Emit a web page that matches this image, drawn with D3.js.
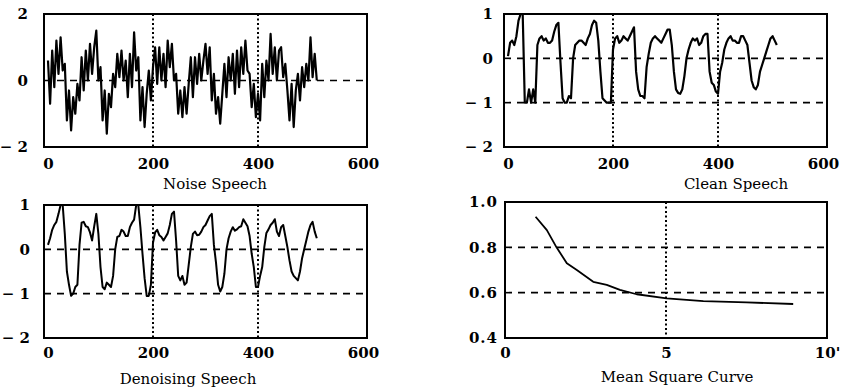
<!DOCTYPE html>
<html>
<head>
<meta charset="utf-8">
<script src="https://cdn.jsdelivr.net/npm/d3@7"></script>
<style>
  body { margin: 0; background: #fff; }
  svg text { font-family: "DejaVu Serif", serif; fill: #000; }
</style>
</head>
<body>
<svg id="chart" width="841" height="389"></svg>
<script>
const sampleStep = 4;

const noiseSpeech = [
  0.6, -0.7, 0.9, -0.2, 1.2, 0.2, 1.3, 0.3, 0.5, -1.2,
  -0.3, -1.5, -0.5, -1.0, -0.1, -0.6, 0.7, -0.3, 0.9, 0.0,
  1.1, 0.2, 1.0, 1.5, 0.0, 0.4, -1.2, -0.3, -1.6, -0.4,
  -0.8, 0.2, -0.2, 0.8, 0.1, 0.9, 0.0, 0.6, -0.5, 0.8,
  -0.2, 1.45, 0.3, 0.7, -1.2, -0.2, -1.4, -0.4, 0.3, -0.6,
  0.4, 1.0, -0.1, 1.0, 0.0, 0.8, -0.2, 1.2, 0.4, 1.1,
  0.0, 0.2, -1.0, -0.3, -1.1, -0.2, -1.0, -0.1, 0.7, -0.5,
  0.7, -0.1, 0.8, 0.0, 0.6, 1.1, 0.2, 1.0, -0.6, 0.2,
  -1.0, -0.5, -1.3, -0.4, 0.5, -0.5, 0.7, 0.0, 0.8, -0.4,
  0.9, -0.2, 1.0, 0.2, 1.2, 0.3, 0.2, -0.8, -0.1, -1.1,
  -0.4, -1.2, 0.5, -0.5, 0.6, 0.0, 1.4, 0.2, 1.0, 0.0,
  0.9, 1.0, 0.1, 0.5, -0.3, -1.2, -0.1, -1.4, -0.3, 0.2,
  -0.6, 0.4, -0.2, 0.5, 0.0, 1.3, 0.1, 0.8, 0.0
];

const cleanSpeech = [
  0.05, 0.35, 0.4, 0.3, 0.5, 0.85, 1.0, 1.0, -1.0, -1.0,
  -0.7, -1.0, -0.7, -1.0, 0.3, 0.45, 0.5, 0.4, 0.45, 0.35,
  0.35, 0.4, 0.6, 0.75, 0.8, -0.1, -0.9, -1.0, -1.0, -0.85,
  -0.9, 0.0, 0.3, 0.35, 0.4, 0.4, 0.35, 0.3, 0.45, 0.55,
  0.75, 0.85, 0.8, 0.4, -0.3, -0.9, -0.95, -1.0, -1.0, -1.0,
  0.2, 0.45, 0.5, 0.35, 0.4, 0.5, 0.45, 0.4, 0.5, 0.6,
  0.7, -0.3, -0.7, -0.85, -0.85, -0.9, -0.2, 0.1, 0.35, 0.45,
  0.5, 0.45, 0.4, 0.35, 0.45, 0.55, 0.65, 0.65, 0.3, -0.3,
  -0.7, -0.78, -0.8, -0.7, -0.4, 0.0, 0.2, 0.35, 0.45, 0.4,
  0.45, 0.3, 0.35, 0.5, 0.55, 0.55, -0.3, -0.55, -0.6, -0.75,
  -0.8, -0.3, -0.1, 0.2, 0.35, 0.45, 0.5, 0.4, 0.4, 0.35,
  0.35, 0.5, 0.5, 0.4, 0.3, -0.1, -0.5, -0.65, -0.7, -0.6,
  -0.3, -0.15, 0.0, 0.15, 0.3, 0.45, 0.5, 0.4, 0.3
];

const denoisedSpeech = [
  0.1, 0.25, 0.44, 0.55, 0.62, 0.8, 1.0, 1.0, 0.35, -0.5,
  -0.8, -1.05, -1.0, -0.85, -0.8, 0.1, 0.6, 0.62, 0.52, 0.5,
  0.38, 0.2, 0.52, 0.8, 0.35, -0.4, -0.85, -0.9, -0.75, -0.8,
  -0.85, -0.6, 0.0, 0.28, 0.3, 0.44, 0.4, 0.3, 0.3, 0.5,
  0.6, 0.67, 1.0, 1.0, 0.5, -0.1, -0.65, -1.05, -1.05, -0.8,
  0.15, 0.38, 0.44, 0.32, 0.28, 0.2, 0.28, 0.36, 0.55, 0.8,
  0.85, 0.2, -0.6, -0.7, -0.6, -0.8, -0.75, -0.35, 0.05, 0.35,
  0.4, 0.32, 0.33, 0.4, 0.5, 0.55, 0.65, 0.75, 0.8, 0.1,
  -0.3, -0.8, -0.95, -0.85, -0.55, 0.0, 0.25, 0.4, 0.5, 0.42,
  0.45, 0.5, 0.52, 0.68, 0.6, 0.52, 0.3, -0.1, -0.4, -0.85,
  -0.85, -0.6, -0.4, 0.05, 0.37, 0.45, 0.55, 0.6, 0.68, 0.4,
  0.3, 0.5, 0.55, 0.3, 0.05, -0.25, -0.5, -0.6, -0.65, -0.7,
  -0.5, -0.2, 0.0, 0.2, 0.4, 0.55, 0.62, 0.4, 0.25
];

// mean square error curve
const mseIter = [0.95, 1.3, 1.6, 1.92, 2.23, 2.74, 3.16, 3.57, 4.09, 5.02, 6.16, 7.5, 8.95];
const mseValue = [0.935, 0.876, 0.80, 0.73, 0.70, 0.648, 0.634, 0.612, 0.593, 0.575, 0.563, 0.557, 0.55];

// ticks and labels
const sampleTicks = [0, 200, 400, 600];
const sampleGrid = [200, 400];
const noiseYTicks = [-2, 0, 2];
const noiseGrid = [0];
const speechYTicks = [-2, -1, 0, 1];
const speechGrid = [0, -1];
const mseXTicks = [0, 5, 10];
const mseXLabels = ["0", "5", "10'"];
const mseGridX = [5];
const mseYTicks = [0.4, 0.6, 0.8, 1.0];
const mseGridY = [0.8, 0.6];
const titles = ["Noise Speech", "Clean Speech", "Denoising Speech", "Mean Square Curve"];

const svg = d3.select("#chart");
const signed = d => d < 0 ? "\u2212 " + Math.abs(d) : String(d);

function panel(o) {
  const g = svg.append("g");
  const x = d3.scaleLinear().domain(o.xDomain).range([o.left + o.inset, o.right - o.inset]);
  const y = d3.scaleLinear().domain(o.yDomain).range([o.bottom, o.top]);

  // dashed horizontal grid
  g.selectAll(".hg").data(o.hGrid).enter().append("line")
    .attr("x1", o.left).attr("x2", o.right)
    .attr("y1", d => y(d)).attr("y2", d => y(d))
    .attr("stroke", "#000").attr("stroke-width", 1.6)
    .attr("stroke-dasharray", "7,6");

  // dotted vertical grid
  g.selectAll(".vg").data(o.vGrid).enter().append("line")
    .attr("x1", d => x(d)).attr("x2", d => x(d))
    .attr("y1", o.top).attr("y2", o.bottom)
    .attr("stroke", "#000").attr("stroke-width", 2)
    .attr("stroke-dasharray", "2,2.5");

  // the curve
  const line = d3.line().x(d => x(d[0])).y(d => y(d[1]));
  g.append("path")
    .datum(o.points)
    .attr("d", line)
    .attr("fill", "none")
    .attr("stroke", "#000")
    .attr("stroke-width", o.lineWidth)
    .attr("stroke-linejoin", "round");

  // frame
  g.append("rect")
    .attr("x", o.left).attr("y", o.top)
    .attr("width", o.right - o.left).attr("height", o.bottom - o.top)
    .attr("fill", "none").attr("stroke", "#000").attr("stroke-width", 2);

  // axes
  const xa = g.append("g")
    .attr("transform", `translate(0,${o.bottom})`)
    .call(d3.axisBottom(x).tickValues(o.xTicks).tickSize(0).tickFormat(o.xFormat));
  xa.select(".domain").remove();
  xa.selectAll("text")
    .attr("dy", null).attr("y", o.xLabelOffset)
    .attr("font-family", "DejaVu Serif").attr("font-size", 15).attr("font-weight", "bold");

  const ya = g.append("g")
    .attr("transform", `translate(${o.left},0)`)
    .call(d3.axisLeft(y).tickValues(o.yTicks).tickSize(0).tickPadding(o.yPad).tickFormat(o.yFormat));
  ya.select(".domain").remove();
  ya.selectAll("text")
    .attr("font-family", "DejaVu Serif").attr("font-size", 15).attr("font-weight", "bold")
    .attr("letter-spacing", o.yLetter || 0);

  svg.append("text")
    .attr("x", o.titleX).attr("y", o.titleY)
    .attr("text-anchor", "middle")
    .attr("font-size", 15)
    .text(o.title);
}

panel({
  left: 44, right: 367, top: 14, bottom: 147, inset: 4,
  xDomain: [0, 600], yDomain: [-2, 2],
  points: noiseSpeech.map((v, i) => [i * sampleStep, v]),
  lineWidth: 2.2,
  hGrid: noiseGrid, vGrid: sampleGrid,
  xTicks: sampleTicks, xFormat: d3.format("d"), xLabelOffset: 22,
  yTicks: noiseYTicks, yFormat: signed, yPad: 16,
  title: titles[0], titleX: 215, titleY: 189
});

panel({
  left: 504, right: 827, top: 14, bottom: 147, inset: 4,
  xDomain: [0, 600], yDomain: [-2, 1],
  points: cleanSpeech.map((v, i) => [i * sampleStep, v]),
  lineWidth: 2.2,
  hGrid: speechGrid, vGrid: sampleGrid,
  xTicks: sampleTicks, xFormat: d3.format("d"), xLabelOffset: 22,
  yTicks: speechYTicks, yFormat: signed, yPad: 11,
  title: titles[1], titleX: 736, titleY: 189
});

panel({
  left: 44, right: 367, top: 205, bottom: 338, inset: 4,
  xDomain: [0, 600], yDomain: [-2, 1],
  points: denoisedSpeech.map((v, i) => [i * sampleStep, v]),
  lineWidth: 2,
  hGrid: speechGrid, vGrid: sampleGrid,
  xTicks: sampleTicks, xFormat: d3.format("d"), xLabelOffset: 20,
  yTicks: speechYTicks, yFormat: signed, yPad: 14,
  title: titles[2], titleX: 188, titleY: 384
});

panel({
  left: 505, right: 827, top: 202, bottom: 338, inset: 0,
  xDomain: [0, 10], yDomain: [0.4, 1.0],
  points: mseIter.map((v, i) => [v, mseValue[i]]),
  lineWidth: 1.8,
  hGrid: mseGridY, vGrid: mseGridX,
  xTicks: mseXTicks, xFormat: (d, i) => mseXLabels[i], xLabelOffset: 20,
  yTicks: mseYTicks, yFormat: d3.format(".1f"), yPad: 7, yLetter: 1,
  title: titles[3], titleX: 677, titleY: 382
});
</script>
</body>
</html>
